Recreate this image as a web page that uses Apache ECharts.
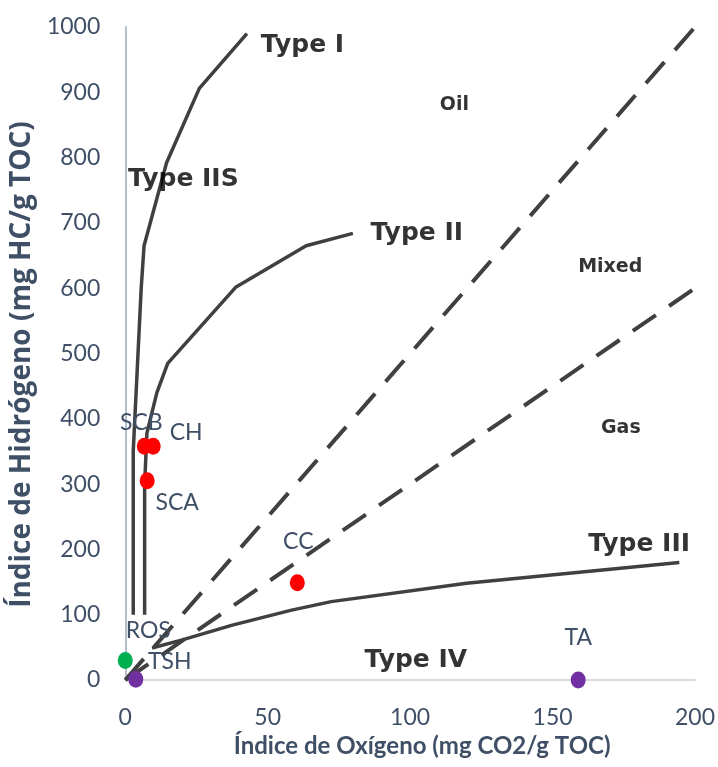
<!DOCTYPE html>
<html><head><meta charset="utf-8">
<script src="https://cdn.jsdelivr.net/npm/echarts@6/dist/echarts.min.js"></script>
<style>html,body{margin:0;padding:0;background:#fff}#c{width:718px;height:767px}</style>
</head><body><div id="c"></div><script>
// ---- data ----
const xTicks = [0, 50, 100, 150, 200];
const yTicks = [0, 100, 200, 300, 400, 500, 600, 700, 800, 900, 1000];
const typeICurve = [[2.8,100],[2.8,350],[4.2,475],[5.6,600],[6.6,665],[14.5,792],[26,906],[42.7,990]];
const typeIICurve = [[6.8,100],[6.8,300],[7.6,378],[11.1,440],[14.9,485],[38.9,602],[63.5,665],[79.9,684]];
const typeIIICurve = [[9.4,49],[19.7,61],[37.6,84],[58.4,107],[72.3,120],[119.8,148],[194.5,180]];
const oilMixedBoundary = [[0,0],[200,1000]];
const mixedGasBoundary = [[0,0],[200,600]];
const sampleNames = ['SCB','CH','SCA','CC','ROS','TSH','TA'];
const sampleOI = [6.7, 9.8, 7.7, 60.4, 0, 3.7, 159];
const sampleHI = [358, 358, 305, 149, 30, 1, 0];
const sampleGroup = ['red','red','red','red','green','purple','purple'];
const zoneNames = ['Type I','Type IIS','Type II','Type III','Type IV','Oil','Mixed','Gas'];
const zoneOI = [47.6, 1.0, 86.1, 162.5, 84, 110.4, 159, 167];
const zoneHI = [972, 767, 684.5, 207, 30.6, 880.5, 632.5, 386];

// ---- styles ----
const groupColors = {red:'#FF0000', green:'#00B050', purple:'#7030A0'};
const sampleLabelOffsets = {SCB:[-3,-24], CH:[33,-14], SCA:[30,22], CC:[1,-41], ROS:[23,-30], TSH:[34,-18], TA:[0,-42]};
const zoneFont = {'Type I':25,'Type IIS':25,'Type II':25,'Type III':25,'Type IV':25,'Oil':19,'Mixed':19,'Gas':19};
const slate = '#3F4F66';
const curveColor = '#404040';

const chart = echarts.init(document.getElementById('c'));
function curve(data, dashed) {
  return {
    type: 'line', data: data, showSymbol: false, symbol: 'none', silent: true, z: 2,
    lineStyle: dashed ? {color: curveColor, width: 4, type: [28, 16]} : {color: curveColor, width: 3.5}
  };
}
const samples = sampleNames.map((n, i) => ({
  name: n, value: [sampleOI[i], sampleHI[i]],
  itemStyle: {color: groupColors[sampleGroup[i]], opacity: 1},
  label: {show: true, position: 'inside', offset: sampleLabelOffsets[n], formatter: '{b}',
    color: slate, fontFamily: 'Lato', fontSize: 23}
}));
const zones = zoneNames.map((n, i) => ({
  name: n, value: [zoneOI[i], zoneHI[i]],
  label: {show: true, position: 'right', distance: 0, formatter: '{b}',
    color: '#000', fontFamily: 'DejaVu Sans', fontWeight: 'bold', fontSize: zoneFont[n]}
}));

chart.setOption({
  animation: false,
  grid: {left: 125, right: 18, top: 27, bottom: 87, containLabel: false},
  xAxis: {
    type: 'value', min: xTicks[0], max: xTicks[xTicks.length-1], interval: 50,
    name: 'Índice de Oxígeno (mg CO2/g TOC)', nameLocation: 'middle', nameGap: 51,
    nameTextStyle: {color: slate, fontFamily: 'Lato', fontWeight: 'bold', fontSize: 24, padding: [0, 0, 0, 24]},
    axisLine: {show: true, lineStyle: {color: '#D6DCE4', width: 2}},
    axisTick: {show: false}, splitLine: {show: false},
    axisLabel: {color: slate, fontFamily: 'Lato', fontSize: 23, margin: 26}
  },
  yAxis: {
    type: 'value', min: yTicks[0], max: yTicks[yTicks.length-1], interval: 100,
    name: 'Índice de Hidrógeno (mg HC/g TOC)', nameLocation: 'middle', nameGap: 78, nameRotate: 90,
    nameTextStyle: {color: slate, fontFamily: 'Open Sans', fontWeight: 'bold', fontSize: 28, padding: [0, 22, 0, 0]},
    axisLine: {show: true, lineStyle: {color: '#B4BFCD', width: 2}},
    axisTick: {show: false}, splitLine: {show: false},
    axisLabel: {color: slate, fontFamily: 'Lato', fontSize: 23, margin: 25, formatter: v => String(v)}
  },
  series: [
    curve(typeICurve), curve(typeIICurve), curve(typeIIICurve),
    curve(oilMixedBoundary, true), curve(mixedGasBoundary, true),
    {type: 'scatter', data: zones, symbolSize: 0, silent: true, z: 3},
    {type: 'scatter', data: samples, symbol: 'circle', symbolSize: [15, 17], silent: true, z: 4}
  ]
});
</script></body></html>
